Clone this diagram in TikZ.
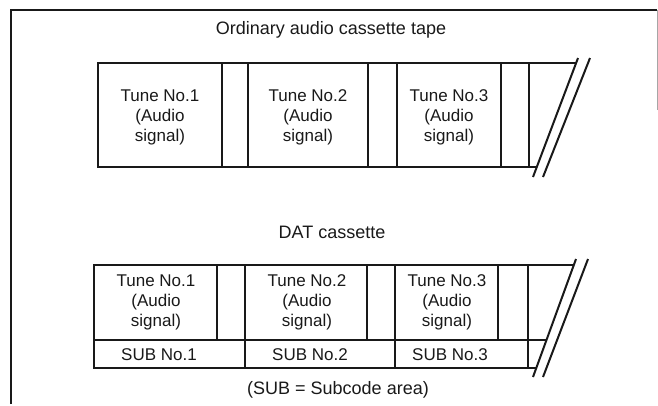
\documentclass[tikz,border=0pt]{standalone}
\usepackage{fontspec}
\setmainfont{Liberation Sans}
\usetikzlibrary{positioning}
\colorlet{myink}{black!90}

\begin{document}
\begin{tikzpicture}[x=1pt, y=-1pt,
  font=\fontsize{17}{20}\selectfont,
  tape/.style ={draw=myink, line width=2.4pt},
  brk/.style  ={draw=myink, line width=2pt},
  frame/.style={draw=myink, line width=1.8pt},
  cell/.style ={text=myink, align=center, inner sep=0pt},
  head/.style ={text=myink, inner sep=0pt, font=\fontsize{18}{21}\selectfont},
]
\useasboundingbox (0,0) rectangle (658,405);

% outer frame, open at the bottom like the scan
\draw[frame] (11,404) -- (11,10) -- (657,10);
\draw[draw=black!35, line width=0.6pt] (657,10) -- (657,110);

% ==================================================== TOP: ordinary audio cassette
\node[head] (ordtitle) at (331,30) {Ordinary audio cassette tape};

\draw[tape] (576,63) -- (98,63) -- (98,167) -- (537,167);
\foreach \x in {222,248,368,397,501,529}
  \draw[tape] (\x,63) -- (\x,167);
% the break in the tape
\draw[brk] (578,58) -- (533,177);
\draw[brk] (590,58) -- (543,177);

\node[cell] (ord1) at (160,117) {Tune No.1\\(Audio\\signal)};
\node[cell] (ord2) at (308,117) {Tune No.2\\(Audio\\signal)};
\node[cell] (ord3) at (449,117) {Tune No.3\\(Audio\\signal)};

% ==================================================== BOTTOM: DAT cassette
\node[head] (dattitle) at (332,232) {DAT cassette};

\draw[tape] (574,265) -- (94,265) -- (94,368) -- (536,368);
\draw[tape] (94,340) -- (546,340);
% audio row has the gaps, subcode row only the tune boundaries
\foreach \x in {217,367,498}
  \draw[tape] (\x,265) -- (\x,340);
\foreach \x in {245,395,528}
  \draw[tape] (\x,265) -- (\x,368);
\draw[brk] (576,259) -- (533,377);
\draw[brk] (588,259) -- (543,377);

\node[cell] (dat1) at (156,302) {Tune No.1\\(Audio\\signal)};
\node[cell] (dat2) at (307,302) {Tune No.2\\(Audio\\signal)};
\node[cell] (dat3) at (447,302) {Tune No.3\\(Audio\\signal)};

\node[cell] (sub1) at (159,355) {SUB No.1};
\node[cell] (sub2) at (310,355) {SUB No.2};
\node[cell] (sub3) at (450,355) {SUB No.3};

\node[head] (subnote) at (338,390) {(SUB = Subcode area)};
\end{tikzpicture}
\end{document}
